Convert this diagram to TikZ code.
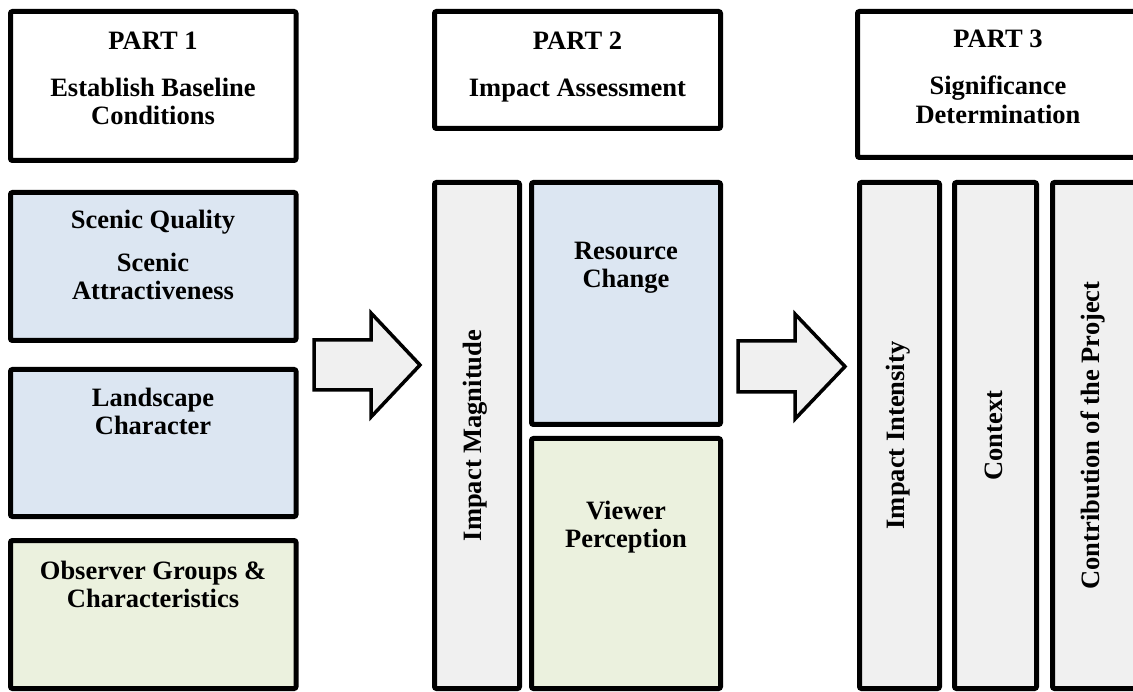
\documentclass[tikz,border=0pt]{standalone}
\usepackage{fontspec}
\setmainfont{Liberation Serif}
\definecolor{blueF}{HTML}{DCE6F2}
\definecolor{greenF}{HTML}{EBF1DE}
\definecolor{grayF}{HTML}{F0F0F0}
\begin{document}
\begin{tikzpicture}[x=1pt,y=-1pt,
  box/.style={draw=black, line width=5pt, rounded corners=2pt, inner sep=0pt, rectangle},
  txt/.style={font=\fontsize{26.5}{28}\selectfont\bfseries, inner sep=0pt, anchor=base},
  vtxt/.style={font=\fontsize{26.5}{28}\selectfont\bfseries, inner sep=0pt, rotate=90},
  blockarrow/.style={draw=black, line width=3.5pt, fill=grayF, line join=miter}]
\useasboundingbox (0,0) rectangle (1133,692);
\clip (0,0) rectangle (1133,692);
% boxes: path(x1,y1) rectangle (x2,y2) as nodes
\newcommand{\mybox}[6]{\node[box,fill=#6,minimum width={#4-#2},minimum height={#5-#3}] (#1) at ({(#2+#4)/2},{(#3+#5)/2}) {};}
\mybox{h1}{10.5}{11.5}{296}{160.5}{white}
\mybox{scenic}{10.5}{192.5}{296}{340.5}{blueF}
\mybox{land}{10.5}{369.5}{296}{516.5}{blueF}
\mybox{obs}{10.5}{540.5}{296}{688.5}{greenF}
\mybox{h2}{434.5}{11.5}{720.5}{128.5}{white}
\mybox{mag}{434.5}{182.5}{519.5}{688.5}{grayF}
\mybox{res}{531.5}{182.5}{720.5}{424.5}{blueF}
\mybox{view}{531.5}{438.5}{720.5}{688.5}{greenF}
\mybox{h3}{857.5}{11.5}{1140}{157.5}{white}
\mybox{inten}{859.5}{182.5}{939.5}{688.5}{grayF}
\mybox{ctx}{954.5}{182.5}{1036.5}{688.5}{grayF}
\mybox{contr}{1052.5}{182.5}{1140}{688.5}{grayF}
% texts
\node[txt] (t1a) at (153,50) {PART 1};
\node[txt] (t1b) at (153,97) {Establish Baseline};
\node[txt] (t1c) at (153,125) {Conditions};
\node[txt] (t2a) at (577.5,50) {PART 2};
\node[txt] (t2b) at (577.5,97) {Impact Assessment};
\node[txt] (t3a) at (998,48) {PART 3};
\node[txt] (t3b) at (998,95) {Significance};
\node[txt] (t3c) at (998,124) {Determination};
\node[txt] (s1) at (153,229) {Scenic Quality};
\node[txt] (s2) at (153,272) {Scenic};
\node[txt] (s3) at (153,300) {Attractiveness};
\node[txt] (l1) at (153,407) {Landscape};
\node[txt] (l2) at (153,435) {Character};
\node[txt] (o1) at (153,579) {Observer Groups \&};
\node[txt] (o2) at (153,607) {Characteristics};
\node[txt] (r1) at (626,260) {Resource};
\node[txt] (r2) at (626,288) {Change};
\node[txt] (v1) at (626,519) {Viewer};
\node[txt] (v2) at (626,547) {Perception};
\node[vtxt] (mt) at (475,435.5) {Impact Magnitude};
\node[vtxt] (it) at (898,435.5) {Impact Intensity};
\node[vtxt] (ct) at (994,435.5) {Context};
\node[vtxt] (cbt) at (1093,435.5) {Contribution of the Project};
% block arrows
\draw[blockarrow] (314,340) -- (371,340) -- (371,313) -- (420,365) -- (371,417) -- (371,390) -- (314,390) -- cycle;
\draw[blockarrow] (738,341) -- (795,341) -- (795,314) -- (845,366.5) -- (795,419) -- (795,392) -- (738,392) -- cycle;
\end{tikzpicture}
\end{document}
